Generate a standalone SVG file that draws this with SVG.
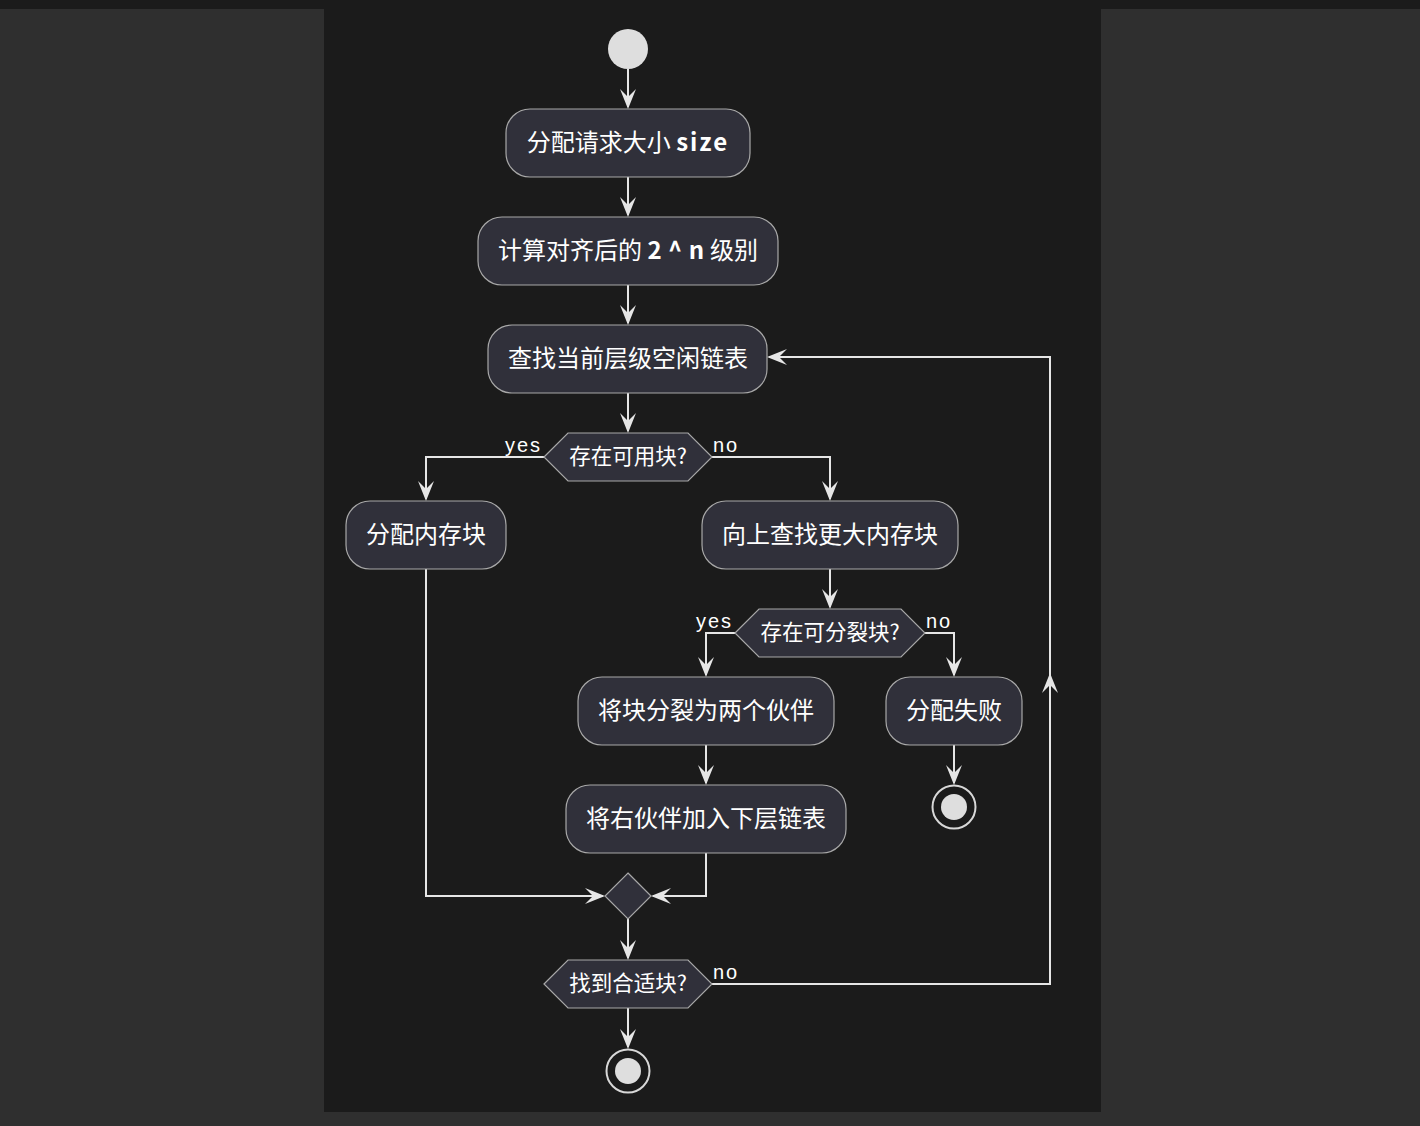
<svg xmlns="http://www.w3.org/2000/svg" width="1420" height="1126" viewBox="0 0 1420 1126">
<defs>
<style>
.bg{fill:#2f2f2f}
.panel{fill:#1b1b1b}
.node{fill:#30303a;stroke:#a8a8a8;stroke-width:1.2}
.t{font-family:"Noto Sans CJK SC","Liberation Sans",sans-serif;fill:#ffffff;text-anchor:middle;font-size:24px}
.td{font-family:"Noto Sans CJK SC","Liberation Sans",sans-serif;fill:#ffffff;text-anchor:middle;font-size:21.5px}
.lbl{font-family:"Liberation Sans","Noto Sans CJK SC",sans-serif;fill:#ffffff;font-size:20px;letter-spacing:2px}
.b{font-weight:bold;letter-spacing:2px}
.b2{font-weight:bold;letter-spacing:0.5px}
.ln{fill:none;stroke:#e6e6e6;stroke-width:2}
.ah{fill:#e6e6e6}
</style>
</defs>
<rect class="bg" x="0" y="0" width="1420" height="1126"/>
<rect class="panel" x="0" y="0" width="1420" height="9"/>
<rect class="panel" x="324" y="0" width="777" height="1112"/>

<g id="connectors">
<path class="ln" d="M628,69 L628,107"/>
<path class="ln" d="M628,177 L628,215"/>
<path class="ln" d="M628,285 L628,323"/>
<path class="ln" d="M628,393 L628,431"/>
<path class="ln" d="M544,457 L426,457 L426,499"/>
<path class="ln" d="M712,457 L830,457 L830,499"/>
<path class="ln" d="M830,569 L830,607"/>
<path class="ln" d="M735,633 L706,633 L706,675"/>
<path class="ln" d="M925,633 L954,633 L954,675"/>
<path class="ln" d="M954,745 L954,783"/>
<path class="ln" d="M706,745 L706,783"/>
<path class="ln" d="M426,569 L426,896 L603,896"/>
<path class="ln" d="M706,853 L706,896 L653,896"/>
<path class="ln" d="M628,919 L628,958"/>
<path class="ln" d="M712,984 L1050,984 L1050,357 L769,357"/>
<path class="ln" d="M628,1008 L628,1047"/>
<polygon class="ah" points="628,109 620,89 628,97 636,89"/>
<polygon class="ah" points="628,217 620,197 628,205 636,197"/>
<polygon class="ah" points="628,325 620,305 628,313 636,305"/>
<polygon class="ah" points="628,433 620,413 628,421 636,413"/>
<polygon class="ah" points="426,501 418,481 426,489 434,481"/>
<polygon class="ah" points="830,501 822,481 830,489 838,481"/>
<polygon class="ah" points="830,609 822,589 830,597 838,589"/>
<polygon class="ah" points="706,677 698,657 706,665 714,657"/>
<polygon class="ah" points="954,677 946,657 954,665 962,657"/>
<polygon class="ah" points="954,785 946,765 954,773 962,765"/>
<polygon class="ah" points="706,785 698,765 706,773 714,765"/>
<polygon class="ah" points="605,896 585,888 593,896 585,904"/>
<polygon class="ah" points="651,896 671,888 663,896 671,904"/>
<polygon class="ah" points="628,960 620,940 628,948 636,940"/>
<polygon class="ah" points="628,1049 620,1029 628,1037 636,1029"/>
<polygon class="ah" points="767,357 787,349 779,357 787,365"/>
<polygon class="ah" points="1050,673 1042,693 1050,685 1058,693"/>
<text class="lbl" x="505" y="452">yes</text>
<text class="lbl" x="713" y="452">no</text>
<text class="lbl" x="696" y="628">yes</text>
<text class="lbl" x="926" y="628">no</text>
<text class="lbl" x="713" y="979">no</text>
</g>

<g id="start"><circle cx="628" cy="49" r="20" fill="#dedede"/></g>

<g id="n1">
<rect class="node" x="506" y="109" width="244" height="68" rx="24"/>
<text class="t" x="628" y="151">分配请求大小 <tspan class="b">size</tspan></text>
</g>
<g id="n2">
<rect class="node" x="478" y="217" width="300" height="68" rx="24"/>
<text class="t" x="628" y="259">计算对齐后的 <tspan class="b2">2 ^ n</tspan> 级别</text>
</g>
<g id="n3">
<rect class="node" x="488" y="325" width="279" height="68" rx="24"/>
<text class="t" x="628" y="367">查找当前层级空闲链表</text>
</g>
<g id="d1">
<polygon class="node" points="544,457 568,433 688,433 712,457 688,481 568,481"/>
<text class="td" x="628" y="464">存在可用块?</text>
</g>
<g id="n4">
<rect class="node" x="346" y="501" width="160" height="68" rx="24"/>
<text class="t" x="426" y="543">分配内存块</text>
</g>
<g id="n5">
<rect class="node" x="702" y="501" width="256" height="68" rx="24"/>
<text class="t" x="830" y="543">向上查找更大内存块</text>
</g>
<g id="d2">
<polygon class="node" points="735,633 759,609 901,609 925,633 901,657 759,657"/>
<text class="td" x="830" y="640">存在可分裂块?</text>
</g>
<g id="n6">
<rect class="node" x="578" y="677" width="256" height="68" rx="24"/>
<text class="t" x="706" y="719">将块分裂为两个伙伴</text>
</g>
<g id="n7">
<rect class="node" x="886" y="677" width="136" height="68" rx="24"/>
<text class="t" x="954" y="719">分配失败</text>
</g>
<g id="end1">
<circle cx="954" cy="807" r="21.5" fill="none" stroke="#d8d8d8" stroke-width="2"/>
<circle cx="954" cy="807" r="13" fill="#dedede"/>
</g>
<g id="n8">
<rect class="node" x="566" y="785" width="280" height="68" rx="24"/>
<text class="t" x="706" y="827">将右伙伴加入下层链表</text>
</g>
<g id="merge">
<polygon class="node" points="628,873 651,896 628,919 605,896"/>
</g>
<g id="d3">
<polygon class="node" points="544,984 568,960 688,960 712,984 688,1008 568,1008"/>
<text class="td" x="628" y="991">找到合适块?</text>
</g>
<g id="end2">
<circle cx="628" cy="1071" r="21.5" fill="none" stroke="#d8d8d8" stroke-width="2"/>
<circle cx="628" cy="1071" r="13" fill="#dedede"/>
</g>
</svg>
